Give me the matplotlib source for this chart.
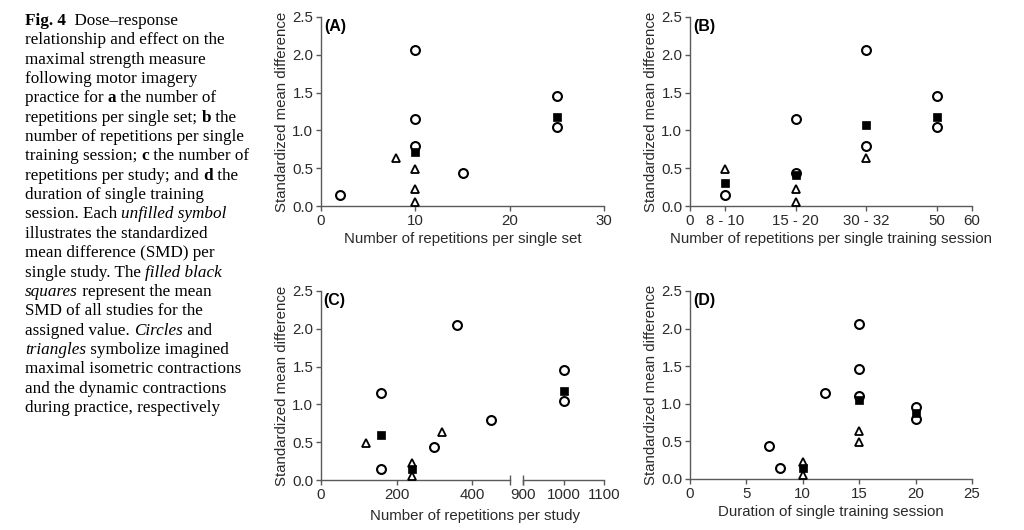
import matplotlib

matplotlib.use("Agg")
import matplotlib.pyplot as plt
from matplotlib.transforms import blended_transform_factory

W, H = 1024, 530
GREY = "#5a5a5a"
TEXT = "#2a2a2a"

# (A) repetitions per single set
a_circle_x = [2, 10, 10, 10, 15, 25, 25]
a_circle_y = [0.15, 2.06, 1.15, 0.80, 0.44, 1.46, 1.05]
a_tri_x = [8, 10, 10, 10]
a_tri_y = [0.64, 0.49, 0.22, 0.05]
a_sq_x = [10, 25]
a_sq_y = [0.71, 1.18]

# (B) repetitions per single training session (categorical)
b_categories = ["8 - 10", "15 - 20", "30 - 32", "50"]
b_circle_cat = ["8 - 10", "15 - 20", "15 - 20", "30 - 32", "30 - 32", "50", "50"]
b_circle_y = [0.15, 1.15, 0.44, 2.06, 0.80, 1.46, 1.05]
b_tri_cat = ["8 - 10", "15 - 20", "15 - 20", "30 - 32"]
b_tri_y = [0.49, 0.22, 0.05, 0.64]
b_sq_cat = ["8 - 10", "15 - 20", "30 - 32", "50"]
b_sq_y = [0.30, 0.41, 1.07, 1.18]

# (C) repetitions per study (broken axis)
c_circle_x = [160, 160, 300, 360, 450, 1000, 1000]
c_circle_y = [1.15, 0.15, 0.44, 2.05, 0.80, 1.46, 1.05]
c_tri_x = [120, 240, 240, 320]
c_tri_y = [0.49, 0.22, 0.05, 0.64]
c_sq_x = [160, 240, 1000]
c_sq_y = [0.59, 0.15, 1.18]

# (D) duration of single training session
d_circle_x = [7, 8, 12, 15, 15, 15, 20, 20]
d_circle_y = [0.44, 0.15, 1.15, 2.06, 1.46, 1.10, 0.96, 0.80]
d_tri_x = [10, 10, 15, 15]
d_tri_y = [0.22, 0.05, 0.64, 0.49]
d_sq_x = [10, 15, 20]
d_sq_y = [0.15, 1.05, 0.88]

caption = [
    [("Fig. 4", "bold"), ("  Dose\u2013response", "normal")],
    [("relationship and effect on the", "normal")],
    [("maximal strength measure", "normal")],
    [("following motor imagery", "normal")],
    [("practice for ", "normal"), ("a", "bold"), (" the number of", "normal")],
    [("repetitions per single set; ", "normal"), ("b", "bold"), (" the", "normal")],
    [("number of repetitions per single", "normal")],
    [("training session; ", "normal"), ("c", "bold"), (" the number of", "normal")],
    [("repetitions per study; and ", "normal"), ("d", "bold"), (" the", "normal")],
    [("duration of single training", "normal")],
    [("session. Each ", "normal"), ("unfilled symbol", "italic")],
    [("illustrates the standardized", "normal")],
    [("mean difference (SMD) per", "normal")],
    [("single study. The ", "normal"), ("filled black", "italic")],
    [("squares", "italic"), (" represent the mean", "normal")],
    [("SMD of all studies for the", "normal")],
    [("assigned value. ", "normal"), ("Circles", "italic"), (" and", "normal")],
    [("triangles", "italic"), (" symbolize imagined", "normal")],
    [("maximal isometric contractions", "normal")],
    [("and the dynamic contractions", "normal")],
    [("during practice, respectively", "normal")],
]

plt.rcParams["font.family"] = ["Liberation Sans", "DejaVu Sans"]

fig = plt.figure(figsize=(W / 100, H / 100), dpi=100)


def px_axes(x0, y0, x1, y1):
    return fig.add_axes([x0 / W, 1 - y1 / H, (x1 - x0) / W, (y1 - y0) / H])


def style(ax, left=True):
    for side in ("top", "right"):
        ax.spines[side].set_visible(False)
    for side in ("left", "bottom"):
        ax.spines[side].set_color(GREY)
        ax.spines[side].set_linewidth(1.0)
    if not left:
        ax.spines["left"].set_visible(False)
        ax.tick_params(axis="y", left=False, labelleft=False)
    ax.tick_params(colors=GREY, labelcolor=TEXT, labelsize=10.8, length=3.5, width=1.0, pad=2)
    ax.set_ylim(0, 2.5)
    ax.set_yticks([0, 0.5, 1.0, 1.5, 2.0, 2.5])
    ax.set_yticklabels(["0.0", "0.5", "1.0", "1.5", "2.0", "2.5"])


def scatter(ax, cx, cy, tx, ty, sx, sy):
    kw = dict(linestyle="none", clip_on=False, zorder=3)
    ax.plot(cx, cy, marker="o", markersize=6.4, markerfacecolor="white",
            markeredgecolor="black", markeredgewidth=1.5, **kw)
    ax.plot(tx, ty, marker="^", markersize=6.4, markerfacecolor="white",
            markeredgecolor="black", markeredgewidth=1.3, **kw)
    ax.plot(sx, sy, marker="s", markersize=5.4, markerfacecolor="black",
            markeredgecolor="black", markeredgewidth=0.5, **kw)


def panel_label(ax, label):
    ax.text(0.012, 0.99, label, transform=ax.transAxes, fontsize=11.5,
            fontweight="bold", color="black", va="top", ha="left")


def ylabel(ax):
    ax.set_ylabel("Standardized mean difference", fontsize=10.8, color=TEXT, labelpad=2)


# (A)
ax_a = px_axes(321, 17, 604, 206)
style(ax_a)
ax_a.set_xlim(0, 30)
ax_a.set_xticks([0, 10, 20, 30])
scatter(ax_a, a_circle_x, a_circle_y, a_tri_x, a_tri_y, a_sq_x, a_sq_y)
panel_label(ax_a, "(A)")
ylabel(ax_a)
ax_a.set_xlabel("Number of repetitions per single set", fontsize=10.8, color=TEXT, labelpad=3)

# (B)
ax_b = px_axes(690, 17, 972, 206)
style(ax_b)
b_pos = {cat: i + 0.5 for i, cat in enumerate(b_categories)}
ax_b.set_xlim(0, len(b_categories))
ax_b.set_xticks([0] + [b_pos[c] for c in b_categories] + [len(b_categories)])
ax_b.set_xticklabels(["0"] + b_categories + ["60"])
scatter(ax_b, [b_pos[c] for c in b_circle_cat], b_circle_y,
        [b_pos[c] for c in b_tri_cat], b_tri_y,
        [b_pos[c] for c in b_sq_cat], b_sq_y)
panel_label(ax_b, "(B)")
ylabel(ax_b)
ax_b.set_xlabel("Number of repetitions per single training session", fontsize=10.8,
                color=TEXT, labelpad=3)

# (C) broken x axis
ax_c1 = px_axes(321, 291, 510, 480)
ax_c2 = px_axes(523, 291, 604, 480)
style(ax_c1)
style(ax_c2, left=False)
ax_c1.set_xlim(0, 500)
ax_c1.set_xticks([0, 200, 400])
ax_c2.set_xlim(900, 1100)
ax_c2.set_xticks([900, 1000, 1100])
ax_c2.patch.set_visible(False)
for ax, lo, hi in ((ax_c1, 0, 500), (ax_c2, 900, 1100)):
    cx = [x for x in c_circle_x if lo <= x <= hi]
    cy = [y for x, y in zip(c_circle_x, c_circle_y) if lo <= x <= hi]
    tx = [x for x in c_tri_x if lo <= x <= hi]
    ty = [y for x, y in zip(c_tri_x, c_tri_y) if lo <= x <= hi]
    sx = [x for x in c_sq_x if lo <= x <= hi]
    sy = [y for x, y in zip(c_sq_x, c_sq_y) if lo <= x <= hi]
    scatter(ax, cx, cy, tx, ty, sx, sy)
# break caps
for ax, xe in ((ax_c1, 500), (ax_c2, 900)):
    tr = blended_transform_factory(ax.transData, ax.transAxes)
    ax.plot([xe], [0], marker="|", markersize=7, markeredgewidth=1.0,
            color=GREY, transform=tr, clip_on=False)
panel_label(ax_c1, "(C)")
ylabel(ax_c1)
fig.text(475 / W, 1 - 516 / H, "Number of repetitions per study", fontsize=10.8,
         color=TEXT, ha="center", va="center")

# (D)
ax_d = px_axes(690, 291, 972, 479)
style(ax_d)
ax_d.set_xlim(0, 25)
ax_d.set_xticks([0, 5, 10, 15, 20, 25])
scatter(ax_d, d_circle_x, d_circle_y, d_tri_x, d_tri_y, d_sq_x, d_sq_y)
panel_label(ax_d, "(D)")
ylabel(ax_d)
ax_d.set_xlabel("Duration of single training session", fontsize=10.8, color=TEXT, labelpad=3)

# caption, drawn segment by segment so bold/italic words sit inline
renderer = fig.canvas.get_renderer()
x_start, y_base, line_h = 25, 25, 19.35
for i, line in enumerate(caption):
    x = x_start
    for text, kind in line:
        t = fig.text(x / W, 1 - (y_base + i * line_h) / H, text,
                     family=["Liberation Serif", "DejaVu Serif"], fontsize=12.3,
                     fontweight="bold" if kind == "bold" else "normal",
                     fontstyle="italic" if kind == "italic" else "normal",
                     color="black", ha="left", va="baseline")
        bb = t.get_window_extent(renderer)
        x += bb.width

fig.savefig("out.png", dpi=100)
